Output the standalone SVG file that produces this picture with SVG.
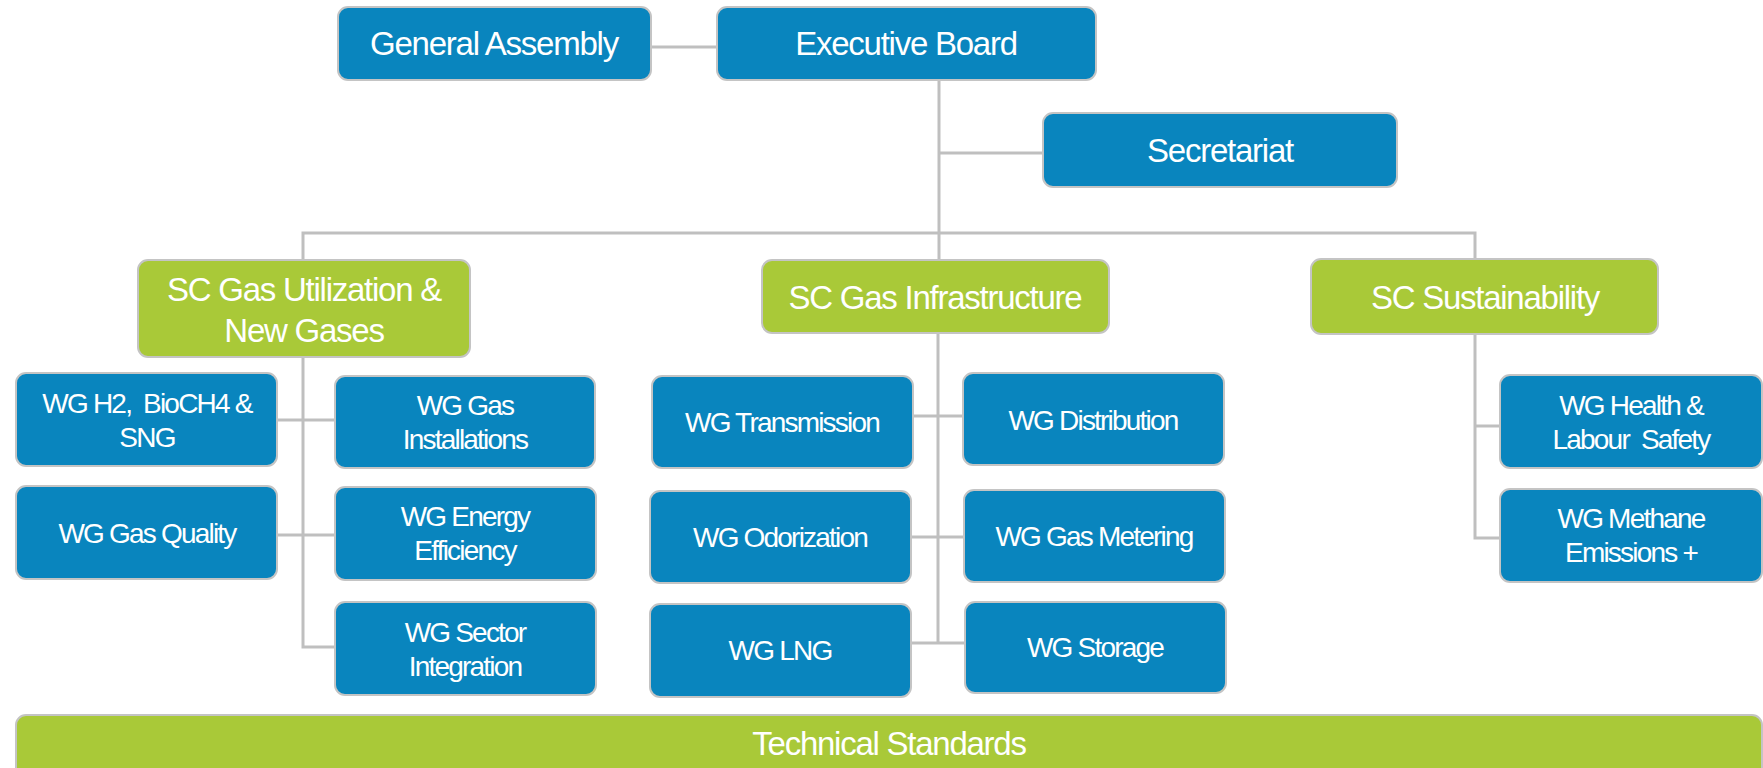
<svg xmlns="http://www.w3.org/2000/svg" width="1763" height="768" viewBox="0 0 1763 768">
<style>
.b{fill:#0985BE;stroke:#C4C4C4;stroke-width:2}
.g{fill:#A9C938;stroke:#C4C4C4;stroke-width:2}
.t{font-family:"Liberation Sans",Arial,sans-serif;fill:#FFFFFF;text-anchor:middle;white-space:pre}
.L{font-size:33px;letter-spacing:-1.25px}
.S{font-size:28px;letter-spacing:-1.8px}
.c{fill:none;stroke:#BFBFBF;stroke-width:3}
</style>
<rect width="1763" height="768" fill="#FFFFFF"/>
<g id="connectors">
<path class="c" d="M651 47H717"/>
<path class="c" d="M939 80V260"/>
<path class="c" d="M939 153H1043"/>
<path class="c" d="M303 260V233H1475V259"/>
<path class="c" d="M303 357V647H335"/>
<path class="c" d="M277 420H334"/>
<path class="c" d="M277 535H335"/>
<path class="c" d="M938 333V643"/>
<path class="c" d="M913 416H963"/>
<path class="c" d="M911 537H964"/>
<path class="c" d="M911 643H965"/>
<path class="c" d="M1475 334V538H1500"/>
<path class="c" d="M1475 426H1500"/>
</g>
<g id="general-assembly"><rect class="b" x="338" y="7" width="313" height="73" rx="10"/><text class="t L" x="494" y="55">General Assembly</text></g>
<g id="executive-board"><rect class="b" x="717" y="7" width="379" height="73" rx="10"/><text class="t L" x="906" y="55">Executive Board</text></g>
<g id="secretariat"><rect class="b" x="1043" y="113" width="354" height="74" rx="10"/><text class="t L" x="1220" y="162">Secretariat</text></g>
<g id="sc-utilization"><rect class="g" x="138" y="260" width="332" height="97" rx="10"/><text class="t L" x="304" y="301">SC Gas Utilization &amp;</text><text class="t L" x="304" y="342">New Gases</text></g>
<g id="sc-infrastructure"><rect class="g" x="762" y="260" width="347" height="73" rx="10"/><text class="t L" x="935" y="309">SC Gas Infrastructure</text></g>
<g id="sc-sustainability"><rect class="g" x="1311" y="259" width="347" height="75" rx="10"/><text class="t L" x="1485" y="309">SC Sustainability</text></g>
<g id="wg-h2"><rect class="b" x="16" y="373" width="261" height="93" rx="10"/><text class="t S" x="147" y="413">WG H2,  BioCH4 &amp;</text><text class="t S" x="147" y="447">SNG</text></g>
<g id="wg-gas-quality"><rect class="b" x="16" y="486" width="261" height="93" rx="10"/><text class="t S" x="147" y="543">WG Gas Quality</text></g>
<g id="wg-gas-installations"><rect class="b" x="335" y="376" width="260" height="92" rx="10"/><text class="t S" x="465" y="415">WG Gas</text><text class="t S" x="465" y="449">Installations</text></g>
<g id="wg-energy-efficiency"><rect class="b" x="335" y="487" width="261" height="93" rx="10"/><text class="t S" x="465" y="526">WG Energy</text><text class="t S" x="465" y="560">Efficiency</text></g>
<g id="wg-sector-integration"><rect class="b" x="335" y="602" width="261" height="93" rx="10"/><text class="t S" x="465" y="642">WG Sector</text><text class="t S" x="465" y="676">Integration</text></g>
<g id="wg-transmission"><rect class="b" x="652" y="376" width="261" height="92" rx="10"/><text class="t S" x="782" y="432">WG Transmission</text></g>
<g id="wg-odorization"><rect class="b" x="650" y="491" width="261" height="92" rx="10"/><text class="t S" x="780" y="547">WG Odorization</text></g>
<g id="wg-lng"><rect class="b" x="650" y="604" width="261" height="93" rx="10"/><text class="t S" x="780" y="660">WG LNG</text></g>
<g id="wg-distribution"><rect class="b" x="963" y="373" width="261" height="92" rx="10"/><text class="t S" x="1093" y="430">WG Distribution</text></g>
<g id="wg-gas-metering"><rect class="b" x="964" y="490" width="261" height="92" rx="10"/><text class="t S" x="1094" y="546">WG Gas Metering</text></g>
<g id="wg-storage"><rect class="b" x="965" y="602" width="261" height="91" rx="10"/><text class="t S" x="1095" y="657">WG Storage</text></g>
<g id="wg-health"><rect class="b" x="1500" y="375" width="262" height="93" rx="10"/><text class="t S" x="1631" y="415">WG Health &amp;</text><text class="t S" x="1631" y="449">Labour  Safety</text></g>
<g id="wg-methane"><rect class="b" x="1500" y="489" width="262" height="93" rx="10"/><text class="t S" x="1631" y="528">WG Methane</text><text class="t S" x="1631" y="562">Emissions +</text></g>
<g id="technical-standards"><rect class="g" x="16" y="715" width="1746" height="90" rx="10"/><text class="t L" x="889" y="755">Technical Standards</text></g>
</svg>
